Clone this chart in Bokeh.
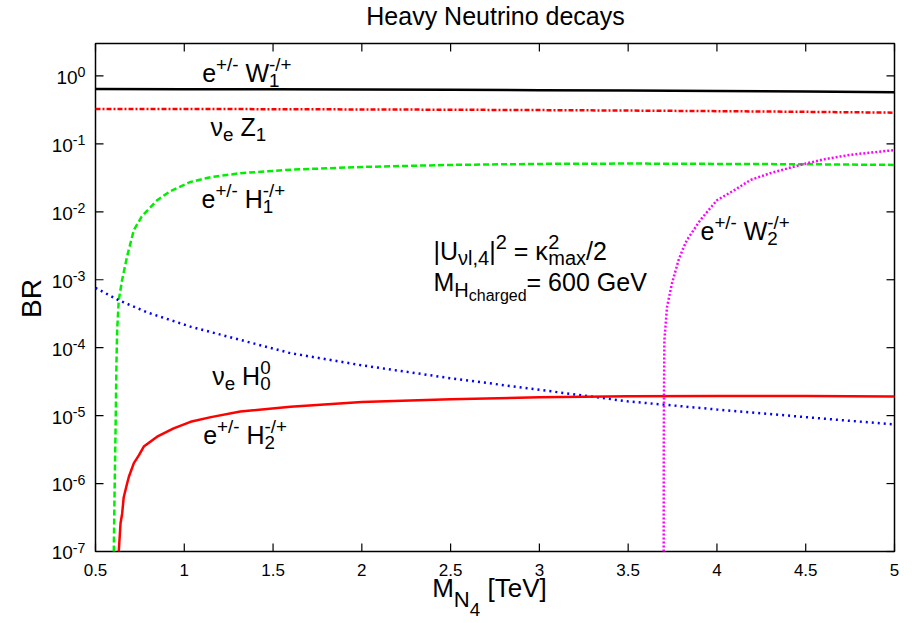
import math
from bokeh.plotting import figure
from bokeh.models import Label, Range1d
from bokeh.embed import file_html
from bokeh.resources import INLINE

FONT = "Liberation Sans"

# ---------------- data ----------------
x_w1 = [0.5, 1.0, 1.5, 2.0, 2.5, 3.0, 3.5, 4.0, 4.5, 5.0]
br_w1 = [0.640, 0.638, 0.635, 0.630, 0.624, 0.617, 0.609, 0.600, 0.588, 0.575]

x_z1 = [0.5, 1.0, 1.5, 2.0, 2.5, 3.0, 3.5, 4.0, 4.5, 5.0]
br_z1 = [0.327, 0.326, 0.324, 0.321, 0.318, 0.314, 0.309, 0.303, 0.296, 0.288]

x_h1 = [0.603, 0.607, 0.613, 0.618, 0.622, 0.631, 0.650, 0.678, 0.716, 0.76, 0.81, 0.847,
        0.92, 1.035, 1.15, 1.316, 1.6, 2.0, 2.5, 3.0, 3.5, 4.0, 4.5, 5.0]
br_h1 = [1.0e-7, 6.3e-7, 6.2e-6, 5.9e-5, 1.8e-4, 5.0e-4, 1.0e-3, 2.2e-3, 5.4e-3, 8.5e-3, 1.17e-2, 1.48e-2,
         2.0e-2, 2.75e-2, 3.24e-2, 3.7e-2, 4.17e-2, 4.57e-2, 4.9e-2, 5.07e-2, 5.13e-2, 5.07e-2, 5.01e-2, 4.9e-2]

x_h2 = [0.631, 0.641, 0.650, 0.659, 0.678, 0.688, 0.716, 0.744, 0.772, 0.847, 0.94, 1.035, 1.15, 1.316,
        1.598, 2.0, 2.5, 3.0, 3.5, 4.0, 4.5, 5.0]
br_h2 = [1.0e-7, 2.6e-7, 3.6e-7, 6.3e-7, 1.0e-6, 1.26e-6, 2.0e-6, 2.6e-6, 3.5e-6, 4.9e-6, 6.5e-6, 8.1e-6,
         9.5e-6, 1.15e-5, 1.35e-5, 1.58e-5, 1.74e-5, 1.86e-5, 1.93e-5, 1.95e-5, 1.95e-5, 1.91e-5]

x_h0 = [0.5, 0.63, 0.8, 1.035, 1.316, 1.598, 2.0, 2.5, 3.0, 3.5, 4.0, 4.5, 5.0]
br_h0 = [7.6e-4, 5.0e-4, 3.24e-4, 2.04e-4, 1.3e-4, 8.3e-5, 5.5e-5, 3.55e-5, 2.4e-5, 1.62e-5, 1.23e-5, 9.5e-6, 7.4e-6]

x_w2 = [3.700, 3.7005, 3.702, 3.704, 3.719, 3.747, 3.784, 3.81, 3.83, 3.907, 4.0, 4.1, 4.19, 4.3, 4.47,
        4.6, 4.75, 5.0]
br_w2 = [1.0e-7, 3.2e-6, 2.5e-5, 1.29e-4, 4.0e-4, 8.9e-4, 1.95e-3, 2.9e-3, 3.8e-3, 7.6e-3, 1.48e-2,
         2.1e-2, 2.95e-2, 3.7e-2, 4.9e-2, 5.9e-2, 6.9e-2, 8.1e-2]

x_ticks = [0.5, 1.0, 1.5, 2.0, 2.5, 3.0, 3.5, 4.0, 4.5, 5.0]
x_tick_labels = ["0.5", "1", "1.5", "2", "2.5", "3", "3.5", "4", "4.5", "5"]
y_tick_exps = [0, -1, -2, -3, -4, -5, -6, -7]

X_MIN, X_MAX = 0.5, 5.0
Y_MIN, Y_MAX = 1e-7, 3.0

# ---------------- layout (plot box inside a full-canvas frame) ----------------
W, H = 921, 623
BL, BT, BW, BH = 95, 43, 799, 508   # plot box in canvas pixels

LT = math.log10(Y_MAX)
LB = math.log10(Y_MIN)
XS = (X_MAX - X_MIN) / BW
LS = (LT - LB) / BH
x_range = Range1d(X_MIN - BL * XS, X_MIN + (W - BL) * XS)
y_range = Range1d(10 ** (LB - (H - BT - BH) * LS), 10 ** (LT + BT * LS))

p = figure(width=W, height=H, output_backend="svg", toolbar_location=None,
           y_axis_type="log", x_range=x_range, y_range=y_range,
           x_axis_location=None, y_axis_location=None,
           min_border_left=0, min_border_right=0, min_border_top=0, min_border_bottom=0)
for g in list(p.xgrid) + list(p.ygrid):
    g.visible = False
p.background_fill_color = "white"
p.border_fill_color = "white"
p.outline_line_color = None


def dx(px):  # canvas px -> data x
    return X_MIN + (px - BL) * XS


def dy(py):  # canvas px -> data y
    return 10 ** (LT - (py - BT) * LS)


def py_of(v):
    return BT + (LT - math.log10(v)) / LS


def px_of(v):
    return BL + (v - X_MIN) / XS


# ---------------- plot box and inward ticks on all four sides ----------------
p.quad(left=[X_MIN], right=[X_MAX], bottom=[Y_MIN], top=[Y_MAX], fill_color=None,
       line_color="black", line_width=1.5)
TL = 8
yt = [10.0 ** e for e in y_tick_exps]
n = len(x_ticks)
m = len(yt)
p.segment(x0=x_ticks, y0=[Y_MIN] * n, x1=x_ticks, y1=[dy(BT + BH - TL)] * n, line_color="black", line_width=1.2)
p.segment(x0=x_ticks, y0=[Y_MAX] * n, x1=x_ticks, y1=[dy(BT + TL)] * n, line_color="black", line_width=1.2)
p.segment(x0=[X_MIN] * m, y0=yt, x1=[dx(BL + TL)] * m, y1=yt, line_color="black", line_width=1.2)
p.segment(x0=[X_MAX] * m, y0=yt, x1=[dx(BL + BW - TL)] * m, y1=yt, line_color="black", line_width=1.2)

# ---------------- curves ----------------
LW = 2.5
p.line(x_w1, br_w1, line_color="black", line_width=LW)
p.line(x_z1, br_z1, line_color="#ff0000", line_width=LW, line_dash="5 2 2 2")
p.line(x_h1, br_h1, line_color="#00ee00", line_width=LW, line_dash="6 3")
p.line(x_h0, br_h0, line_color="#0000ff", line_width=LW, line_dash="2 4")
p.line(x_h2, br_h2, line_color="#ff0000", line_width=LW)
p.line(x_w2, br_w2, line_color="#ff00ff", line_width=LW, line_dash="2 2")

# ---------------- text helpers ----------------
AW = {' ': 278, '+': 584, '/': 278, '-': 333, '=': 584, '|': 260, ',': 278, '.': 278, '[': 278, ']': 278,
      'e': 556, 'a': 556, 'c': 500, 'd': 556, 'g': 556, 'h': 556, 'l': 222, 'm': 833, 'r': 333,
      'x': 500, 'y': 500, 'v': 500, 'u': 556, 't': 278, 'i': 222, 'n': 556, 'o': 556, 's': 500,
      'W': 944, 'H': 722, 'Z': 611, 'U': 722, 'M': 833, 'G': 778, 'V': 667, 'T': 611, 'N': 722,
      'B': 667, 'R': 722, 'ν': 500, 'κ': 520}
BASE_FIX = 0.4   # the renderer draws labels this fraction of the font size below the requested baseline


def tw(s, size):
    return sum(AW.get(c, 556) for c in s) / 1000.0 * size


def lab(text, px, py, size, align="left", angle=0.0, color="black"):
    stripped = text.lstrip(" ")
    if align == "left":
        px += tw(text[:len(text) - len(stripped)], size)
    if angle == 0.0:
        py -= BASE_FIX * size
    else:
        px -= BASE_FIX * size
    p.add_layout(Label(x=dx(px), y=dy(py), text=stripped, text_font=FONT, text_font_size=f"{size:.1f}px",
                       text_align=align, text_baseline="alphabetic", angle=angle, text_color=color))


def rich(parts, x0, yb, F, align="left", sc=0.75, up=0.42, down=0.22, down2=0.2):
    s1, s2 = F * sc, F * sc * sc
    total = 0.0
    for part in parts:
        kind = part[0]
        if kind == "n":
            total += tw(part[1], F)
        elif kind in ("sup", "sub"):
            total += tw(part[1], s1)
        elif kind == "subsup":
            total += max(tw(part[1], s1), tw(part[2], s1))
        elif kind == "subsub":
            total += tw(part[1], s2)
    x = x0 - (total if align == "right" else total / 2 if align == "center" else 0)
    for part in parts:
        kind = part[0]
        if kind == "n":
            lab(part[1], x, yb, F)
            x += tw(part[1], F)
        elif kind == "sup":
            lab(part[1], x, yb - up * F, s1)
            x += tw(part[1], s1)
        elif kind == "sub":
            lab(part[1], x, yb + down * F, s1)
            x += tw(part[1], s1)
        elif kind == "subsup":
            lab(part[1], x, yb + down * F, s1)
            lab(part[2], x, yb - up * F, s1)
            x += max(tw(part[1], s1), tw(part[2], s1))
        elif kind == "subsub":
            lab(part[1], x, yb + down * F + down2 * s1, s2)
            x += tw(part[1], s2)


# ---------------- tick labels ----------------
for v, t in zip(x_ticks, x_tick_labels):
    lab(t, px_of(v), 576, 17, align="center")
for e in y_tick_exps:
    rich([("n", "10"), ("sup", str(e))], 85, py_of(10.0 ** e) + 9, 19, align="right", up=0.37)

# ---------------- titles ----------------
lab("Heavy Neutrino decays", 495, 25, 25, align="center")
lab("BR", 42, 298, 28, align="center", angle=math.pi / 2)
rich([("n", "M"), ("sub", "N"), ("subsub", "4"), ("n", " [TeV]")], 431.7, 598.3, 26,
     sc=0.85, down=0.37, down2=0.4)

# ---------------- curve labels ----------------
LF = 25
rich([("n", "e"), ("sup", "+/-"), ("n", " W"), ("subsup", "1", "-/+")], 201.7, 82.3, LF)
rich([("n", "ν"), ("sub", "e"), ("n", " Z"), ("sub", "1")], 210, 136, LF)
rich([("n", "e"), ("sup", "+/-"), ("n", " H"), ("subsup", "1", "-/+")], 201, 208, LF)
rich([("n", "e"), ("sup", "+/-"), ("n", " W"), ("subsup", "2", "-/+")], 700, 240, LF)
rich([("n", "ν"), ("sub", "e"), ("n", " H"), ("subsup", "0", "0")], 211.7, 385, LF)
rich([("n", "e"), ("sup", "+/-"), ("n", " H"), ("subsup", "2", "-/+")], 202.7, 444.3, LF)

rich([("n", "|U"), ("sub", "νl,4"), ("n", "|"), ("sup", "2"), ("n", " = κ"), ("subsup", "max", "2"),
      ("n", "/2")], 433, 260, LF, sc=0.8)
rich([("n", "M"), ("sub", "H"), ("subsub", "charged"), ("n", "= 600 GeV")], 433, 291.7, LF, sc=0.8)

open("out.html", "w").write(file_html(p, INLINE))
